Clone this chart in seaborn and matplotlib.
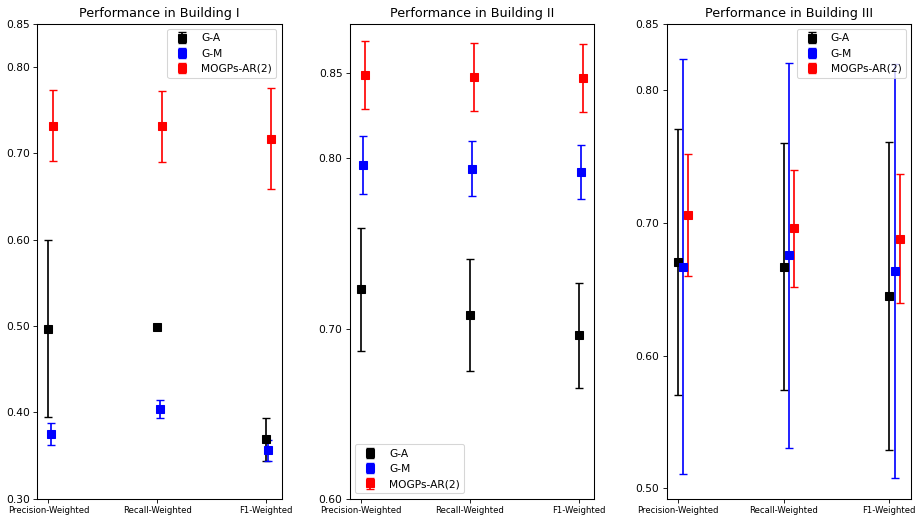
import numpy as np
import pandas as pd
import matplotlib
matplotlib.use("Agg")
import matplotlib.pyplot as plt
import matplotlib.transforms as mtransforms
import seaborn as sns

# ---------------- data ----------------
metrics = ["Precision-Weighted", "Recall-Weighted", "F1-Weighted"]
methods = ["G-A", "G-M", "MOGPs-AR(2)"]
buildings = ["Building I", "Building II", "Building III"]

# Building I
b1_ga_mean = [0.497, 0.499, 0.369]
b1_ga_err = [0.102, 0.0, 0.025]
b1_gm_mean = [0.375, 0.404, 0.356]
b1_gm_err = [0.013, 0.010, 0.012]
b1_mo_mean = [0.732, 0.731, 0.717]
b1_mo_err = [0.041, 0.041, 0.058]

# Building II
b2_ga_mean = [0.723, 0.708, 0.696]
b2_ga_err = [0.036, 0.033, 0.031]
b2_gm_mean = [0.796, 0.794, 0.792]
b2_gm_err = [0.017, 0.016, 0.016]
b2_mo_mean = [0.849, 0.848, 0.8475]
b2_mo_err = [0.020, 0.020, 0.020]

# Building III
b3_ga_mean = [0.6705, 0.667, 0.645]
b3_ga_err = [0.100, 0.093, 0.116]
b3_gm_mean = [0.667, 0.6755, 0.664]
b3_gm_err = [0.1565, 0.145, 0.156]
b3_mo_mean = [0.706, 0.696, 0.688]
b3_mo_err = [0.046, 0.044, 0.0485]

rows = []
for b, sets in zip(buildings, [
        [(b1_ga_mean, b1_ga_err), (b1_gm_mean, b1_gm_err), (b1_mo_mean, b1_mo_err)],
        [(b2_ga_mean, b2_ga_err), (b2_gm_mean, b2_gm_err), (b2_mo_mean, b2_mo_err)],
        [(b3_ga_mean, b3_ga_err), (b3_gm_mean, b3_gm_err), (b3_mo_mean, b3_mo_err)]]):
    for m, (mean, err) in zip(methods, sets):
        for i, met in enumerate(metrics):
            rows.append(dict(building=b, method=m, metric=met, idx=i, mean=mean[i], err=err[i]))
df = pd.DataFrame(rows)

# ---------------- style ----------------
sns.set_style("white", {"axes.edgecolor": "black", "xtick.bottom": True, "ytick.left": True,
                        "text.color": "black", "xtick.color": "black", "ytick.color": "black",
                        "axes.labelcolor": "black"})
plt.rcParams["font.family"] = ["DejaVu Sans"]
palette = dict(zip(methods, sns.color_palette(["black", "blue", "red"])))

DPI = 917 / 12.0
fig = plt.figure(figsize=(12.0, 519 / DPI), dpi=DPI)

W, H = 917.0, 519.0
ax_px = [(37.3, 281.7), (350.0, 594.3), (666.7, 911.0)]
top_px, bot_px = 23.7, 498.7
shifts = [[0.0, 0.02, 0.04], [0.0, 0.02, 0.04], [0.0, 0.05, 0.10]]
label_dx = [[11.3, -3.0, -9.4], [17.8, 5.7, -3.6], [23.4, 10.9, -2.0]]
legend_loc = ["upper right", "lower left", "upper right"]

for k, b in enumerate(buildings):
    x0, x1 = ax_px[k]
    ax = fig.add_axes([x0 / W, 1 - bot_px / H, (x1 - x0) / W, (bot_px - top_px) / H])
    sub = df[df.building == b]
    for j, m in enumerate(methods):
        s = sub[sub.method == m]
        ax.errorbar(s["idx"] + shifts[k][j], s["mean"], yerr=s["err"], fmt="s",
                    color=palette[m], ecolor=palette[m], markersize=7.5,
                    elinewidth=1.6, capsize=3.5, capthick=1.3, label=m)
    ax.set_xticks(range(len(metrics)))
    ax.set_xticklabels(metrics, fontsize=8)
    for lab, dx in zip(ax.get_xticklabels(), label_dx[k]):
        lab.set_transform(lab.get_transform() + mtransforms.ScaledTranslation(dx / DPI, 0, fig.dpi_scale_trans))
    ax.set_title(f"Performance in {b}", fontsize=12, color="black")
    ax.tick_params(axis="both", colors="black", length=3.5, width=0.8)
    ax.tick_params(axis="y", labelsize=10)
    if k == 0:
        ax.set_ylim(0.30, 0.85)
        ax.set_yticks([0.30, 0.40, 0.50, 0.60, 0.70, 0.80, 0.85])
    elif k == 1:
        ax.set_ylim(bottom=0.60)
        ax.set_yticks([0.60, 0.70, 0.80, 0.85])
    else:
        ax.set_ylim(top=0.85)
        ax.set_yticks([0.50, 0.60, 0.70, 0.80, 0.85])
    ax.yaxis.set_major_formatter(matplotlib.ticker.FormatStrFormatter("%.2f"))
    leg = ax.legend(loc=legend_loc[k], fontsize=10)
    for t in leg.get_texts():
        t.set_color("black")
    for sp in ax.spines.values():
        sp.set_color("black")
        sp.set_linewidth(1.0)

fig.savefig("out.png", dpi=DPI)
